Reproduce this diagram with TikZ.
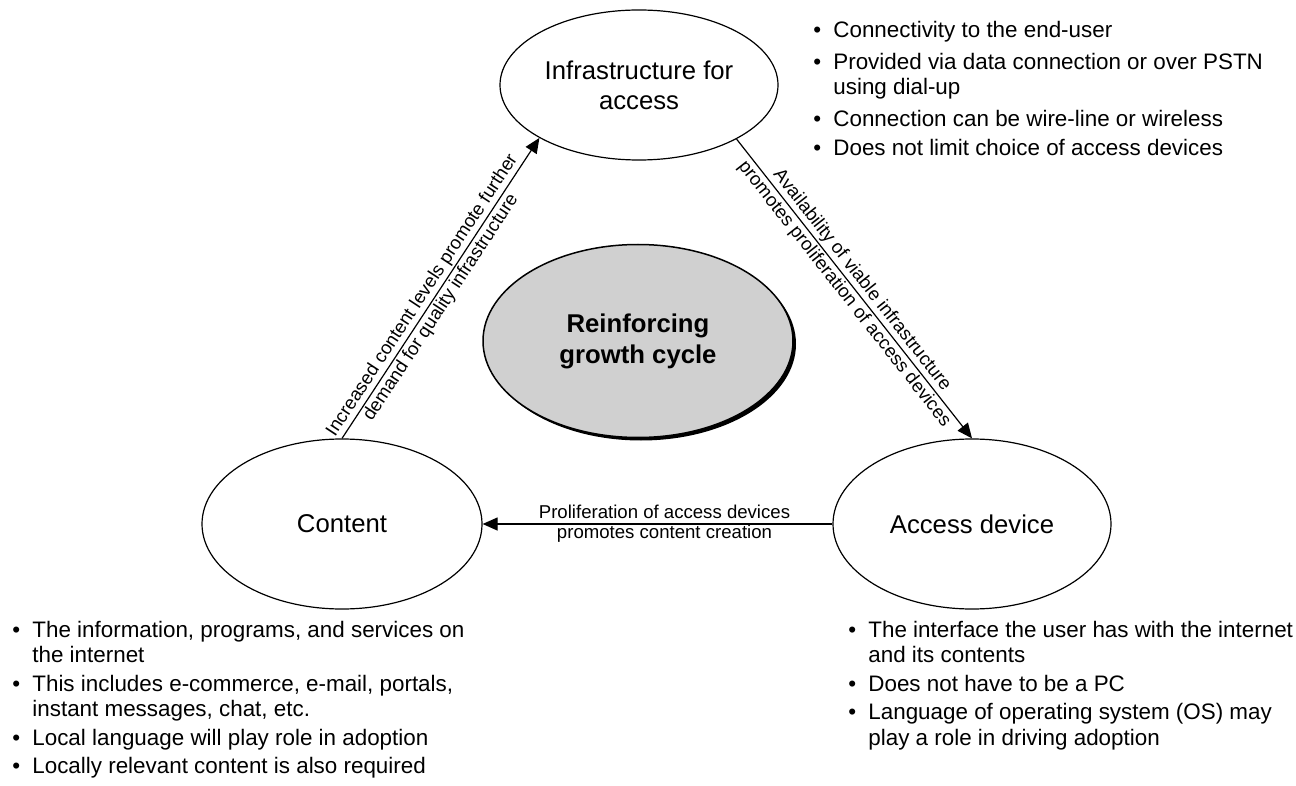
\documentclass[tikz,border=0pt]{standalone}
\usepackage{fontspec}
\setmainfont{Liberation Sans}
\usetikzlibrary{shapes.geometric,arrows.meta,shadows}
\newcommand\blt{\makebox[10pt][l]{\textbullet}}
\newcommand\ind{\hspace*{10pt}}
\begin{document}
\begin{tikzpicture}[x=0.5pt,y=-0.5pt,
  ell/.style={ellipse, draw, line width=0.6pt, inner sep=0pt, align=center,
    font=\fontsize{12.85}{15}\selectfont},
  arr/.style={line width=0.6pt, -{Triangle[length=7.5pt,width=6.5pt]}},
  lbl/.style={inner sep=0pt, align=center, font=\fontsize{9.3}{10}\selectfont},
  dlbl/.style={lbl, sloped, font=\fontsize{9.3}{11.2}\selectfont},
  blist/.style={anchor=base west, inner sep=0pt,
    font=\fontsize{11.2}{12.75}\selectfont}]
\useasboundingbox (0,0) rectangle (1296,786);
\node[ell, minimum width=139pt, minimum height=75pt] (infra) at (639,85) {Infrastructure for\\access};
\node[ell, minimum width=140pt, minimum height=85pt] (content) at (342,524) {Content};
\node[ell, minimum width=139pt, minimum height=85pt] (access) at (972,524) {Access device};
\node[ell, minimum width=155pt, minimum height=96.5pt, line width=0.75pt,
  fill={rgb,255:red,208;green,208;blue,208},
  drop shadow={shadow xshift=1.5pt, shadow yshift=-1.5pt, fill=black, opacity=1},
  font=\fontsize{12.85}{15.5}\selectfont\bfseries] (cycle) at (638,341) {Reinforcing\\growth cycle};

\draw[arr] (content.north) -- node[dlbl, pos=0.455] (l1) {Increased content levels promote further\\demand for quality infrastructure} (infra.208);
\draw[arr] (infra.331.8) -- node[dlbl, pos=0.495] (l2) {Availability of viable infrastructure\\promotes proliferation of access devices} (access.north);
\draw[arr] (access.west) -- node[lbl, pos=0.48] (l3) {Proliferation of access devices\\promotes content creation} (content.east);

\node[blist] (infolist) at (813,38) {\begin{tabular}[t]{@{}l@{}}
\blt Connectivity to the end-user\\[3pt]
\blt Provided via data connection or over PSTN\\
\ind using dial-up\\[3pt]
\blt Connection can be wire-line or wireless\\[2pt]
\blt Does not limit choice of access devices
\end{tabular}};

\node[blist] (contlist) at (12,637) {\begin{tabular}[t]{@{}l@{}}
\blt The information, programs, and services on\\
\ind the internet\\[1.5pt]
\blt This includes e-commerce, e-mail, portals,\\
\ind instant messages, chat, etc.\\[1.5pt]
\blt Local language will play role in adoption\\[1.5pt]
\blt Locally relevant content is also required
\end{tabular}};

\node[blist] (acclist) at (848,637) {\begin{tabular}[t]{@{}l@{}}
\blt The interface the user has with the internet\\
\ind and its contents\\[1.5pt]
\blt Does not have to be a PC\\[1.5pt]
\blt Language of operating system (OS) may\\
\ind play a role in driving adoption
\end{tabular}};
\end{tikzpicture}
\end{document}
